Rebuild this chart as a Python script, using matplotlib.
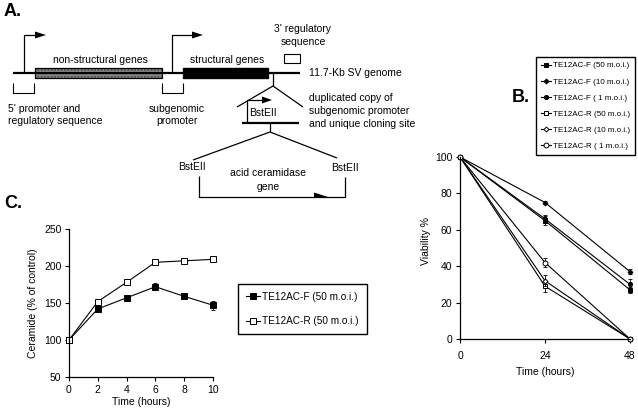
import matplotlib
matplotlib.use("Agg")
import matplotlib.pyplot as plt
from matplotlib.patches import Rectangle, Polygon

plt.rcParams['font.family'] = ['Liberation Sans', 'DejaVu Sans']
plt.rcParams['font.size'] = 7.5

W, H = 638, 420

# B. viability after infection
time_b = [0, 24, 48]
f50 = [100, 65, 27]
f50_err = [0, 2.5, 1.5]
f10 = [100, 75, 37]
f10_err = [0, 1, 1.5]
f1 = [100, 66, 30]
f1_err = [0, 2, 3]
r50 = [100, 29, 0]
r50_err = [0, 3, 0]
r10 = [100, 32, 0]
r10_err = [0, 3, 0]
r1 = [100, 42, 0]
r1_err = [0, 2.5, 0]
labels_b = ["TE12AC-F (50 m.o.i.)", "TE12AC-F (10 m.o.i.)", "TE12AC-F ( 1 m.o.i.)",
            "TE12AC-R (50 m.o.i.)", "TE12AC-R (10 m.o.i.)", "TE12AC-R ( 1 m.o.i.)"]

# C. ceramide levels
time_c = [0, 2, 4, 6, 8, 10]
cer_f = [100, 142, 157, 172, 159, 147]
cer_f_err = [0, 3, 2, 5, 2, 6]
cer_r = [100, 152, 178, 205, 207, 209]
cer_r_err = [0, 3, 2, 2, 2, 4]
labels_c = ["TE12AC-F (50 m.o.i.)", "TE12AC-R (50 m.o.i.)"]


def px(x0, y0, x1, y1):
    return [x0 / W, 1 - y1 / H, (x1 - x0) / W, (y1 - y0) / H]


fig = plt.figure(figsize=(W / 100, H / 100), dpi=100)

# ---- A. schematic, drawn in pixel coordinates ----
ax0 = fig.add_axes([0, 0, 1, 1])
ax0.set_xlim(0, W)
ax0.set_ylim(H, 0)
ax0.axis('off')


def line(xs, ys, lw=0.9):
    ax0.plot(xs, ys, color='k', lw=lw, solid_capstyle='butt')


def head(x, y, length=11, half=3.5):
    ax0.add_patch(Polygon([(x - length, y - half), (x, y), (x - length, y + half)],
                          closed=True, fc='k', ec='none'))


line([13, 300], [73, 73], lw=1.6)
ax0.add_patch(Rectangle((35, 68), 127, 10, fc='#8a8a8a', ec='none'))
ax0.add_patch(Rectangle((35, 68), 127, 10, fc='none', ec='#4a4a4a', lw=0, hatch='.....'))
ax0.add_patch(Rectangle((35, 68), 127, 10, fc='none', ec='k', lw=0.9))
ax0.add_patch(Rectangle((183, 68), 85, 10, fc='k', ec='k'))

line([24, 24, 36], [73, 35, 35])
head(46, 35)
line([172, 172, 193], [73, 35, 35])
head(203, 35)
line([13, 13, 34, 34], [83, 93, 93, 83], lw=0.8)
line([162, 162, 183, 183], [83, 93, 93, 83], lw=0.8)
ax0.add_patch(Rectangle((284, 54), 16, 9, fc='white', ec='k', lw=0.8))

line([273, 273], [73, 86])
line([237, 273, 303], [107, 86, 107])
line([242, 299], [123, 123], lw=1.6)
line([247, 247, 262], [123, 100, 100])
head(272, 100, length=10)
line([270, 270], [123, 132])
line([193, 270, 337], [160, 132, 158])
line([199, 199, 345, 345], [176, 197, 197, 177])
ax0.add_patch(Polygon([(314, 192.5), (328, 197), (314, 197)], closed=True, fc='k', ec='none'))

txt = dict(fontsize=7.5, va='center')
ax0.text(4, 11, "A.", fontsize=13, fontweight='bold', va='center')
ax0.text(100, 60, "non-structural genes", ha='center', **txt)
ax0.text(227, 60, "structural genes", ha='center', **txt)
ax0.text(303, 29, "3' regulatory", ha='center', **txt)
ax0.text(303, 42, "sequence", ha='center', **txt)
ax0.text(309, 73, "11.7-Kb SV genome", ha='left', **txt)
ax0.text(8, 109, "5' promoter and", ha='left', **txt)
ax0.text(8, 121, "regulatory sequence", ha='left', **txt)
ax0.text(177, 109, "subgenomic", ha='center', **txt)
ax0.text(177, 121, "promoter", ha='center', **txt)
ax0.text(263, 113, "BstEII", ha='center', **txt)
ax0.text(309, 98, "duplicated copy of", ha='left', **txt)
ax0.text(309, 111, "subgenomic promoter", ha='left', **txt)
ax0.text(309, 124, "and unique cloning site", ha='left', **txt)
ax0.text(192, 167, "BstEII", ha='center', **txt)
ax0.text(345, 168, "BstEII", ha='center', **txt)
ax0.text(268, 173, "acid ceramidase", ha='center', **txt)
ax0.text(268, 187, "gene", ha='center', **txt)
ax0.text(512, 97, "B.", fontsize=13, fontweight='bold', va='center')
ax0.text(4, 204, "C.", fontsize=13, fontweight='bold', va='center')


def style(ax):
    for s in ['top', 'right']:
        ax.spines[s].set_visible(False)
    for s in ['left', 'bottom']:
        ax.spines[s].set_linewidth(0.9)
    ax.tick_params(direction='out', length=3, width=0.8, labelsize=7.5, pad=2.5)
    ax.patch.set_alpha(0)


# ---- B ----
axB = fig.add_axes(px(460, 157, 630, 339))
style(axB)
series_b = [(f50, f50_err, 's', 'k', 3.5), (f10, f10_err, 'D', 'k', 2.5),
            (f1, f1_err, 'o', 'k', 3), (r50, r50_err, 's', 'white', 3.5),
            (r10, r10_err, 'D', 'white', 2.5), (r1, r1_err, 'o', 'white', 3.5)]
handles = []
for (vals, err, mk, fc, ms), lab in zip(series_b, labels_b):
    axB.errorbar(time_b, vals, yerr=err, fmt='none', ecolor='k', elinewidth=0.6,
                 capsize=1.5, capthick=0.6, clip_on=False)
    h, = axB.plot(time_b, vals, '-', color='k', lw=0.8, marker=mk, ms=ms,
                  mfc=fc, mec='k', mew=0.7, clip_on=False, label=lab)
    handles.append(h)
axB.set_xlim(0, 48)
axB.set_ylim(0, 100)
axB.set_xticks([0, 24, 48])
axB.set_yticks([0, 20, 40, 60, 80, 100])
axB.tick_params(axis='x', pad=5.5)
axB.set_xlabel("Time (hours)", fontsize=7.5)
axB.set_ylabel("Viability %", fontsize=7.5)
axB.xaxis.set_label_coords(0.5, -0.155)
axB.yaxis.set_label_coords(-0.17, 0.54)
axB.legend(handles=handles, loc='upper left', bbox_to_anchor=(536 / W, 1 - 57 / H),
           bbox_transform=fig.transFigure, borderaxespad=0, fancybox=False,
           edgecolor='k', framealpha=1, handlelength=1.3, fontsize=5.8,
           handletextpad=0.25, labelspacing=1.05, borderpad=0.6)

# ---- C ----
axC = fig.add_axes(px(69, 229, 213, 377))
style(axC)
hc = []
for vals, err, fc, lab in [(cer_f, cer_f_err, 'k', labels_c[0]), (cer_r, cer_r_err, 'white', labels_c[1])]:
    axC.errorbar(time_c, vals, yerr=err, fmt='none', ecolor='k', elinewidth=0.6,
                 capsize=1.5, capthick=0.6, clip_on=False)
    h, = axC.plot(time_c, vals, '-', color='k', lw=0.8, marker='s', ms=3.8,
                  mfc=fc, mec='k', mew=0.7, clip_on=False, label=lab)
    hc.append(h)
axC.set_xlim(0, 10)
axC.set_ylim(50, 250)
axC.set_xticks(time_c)
axC.set_yticks([50, 100, 150, 200, 250])
axC.set_xlabel("Time (hours)", fontsize=7.5)
axC.set_ylabel("Ceramide (% of control)", fontsize=7.5)
axC.xaxis.set_label_coords(0.5, -0.135)
axC.yaxis.set_label_coords(-0.215, 0.5)
axC.legend(handles=hc, loc='upper left', bbox_to_anchor=(238 / W, 1 - 284 / H),
           bbox_transform=fig.transFigure, borderaxespad=0, fancybox=False,
           edgecolor='k', framealpha=1, fontsize=7.2, handlelength=1.4,
           handletextpad=0.3, labelspacing=1.5, borderpad=0.75)

fig.savefig('out.png', dpi=100)
